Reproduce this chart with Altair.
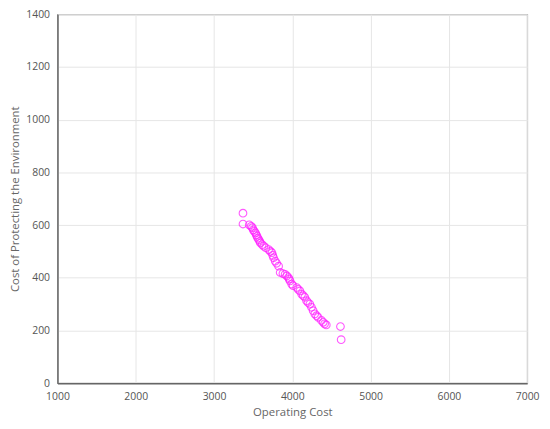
import altair as alt
import pandas as pd

operating_cost = [3370, 3370, 3450, 3475, 3490, 3500, 3515, 3530, 3540, 3550, 3560, 3572, 3585,
                  3593, 3615, 3635, 3660, 3698, 3720, 3740, 3750, 3761, 3782, 3800, 3825, 3845,
                  3880, 3908, 3930, 3950, 3960, 3971, 3992, 4010, 4056, 4075, 4097, 4119, 4140,
                  4160, 4182, 4200, 4224, 4245, 4266, 4287, 4310, 4330, 4372, 4395, 4413, 4434,
                  4615, 4624]
env_cost = [645, 604, 601, 595, 590, 582, 576, 570, 563, 557, 550, 545, 538,
            532, 526, 520, 514, 507, 500, 495, 485, 476, 463, 455, 444, 420,
            416, 413, 407, 401, 395, 388, 376, 370, 363, 356, 350, 338, 332,
            326, 313, 306, 300, 288, 275, 263, 256, 250, 238, 231, 225, 221,
            215, 165]
x_ticks = [1000, 2000, 3000, 4000, 5000, 6000, 7000]
y_ticks = [0, 200, 400, 600, 800, 1000, 1200, 1400]

df = pd.DataFrame({"Operating Cost": operating_cost, "Env": env_cost})

font = "Open Sans"
chart = alt.Chart(df).mark_point(
    shape="circle", filled=False, size=60, stroke="#ff22ff", strokeWidth=1.1, opacity=0.75
).encode(
    x=alt.X("Operating Cost:Q", scale=alt.Scale(domain=[1000, 7000], nice=False),
            axis=alt.Axis(values=x_ticks, format="d", title="Operating Cost")),
    y=alt.Y("Env:Q", scale=alt.Scale(domain=[0, 1400], nice=False),
            axis=alt.Axis(values=y_ticks, format="d",
                          title="Cost of Protecting the Environment")),
).properties(
    width=475, height=373,
    autosize=alt.AutoSizeParams(type="none"),
    padding={"left": 50, "top": 4, "right": 15, "bottom": 44},
).configure_view(
    stroke="#999999", strokeWidth=1.2
).configure_axis(
    grid=True, gridColor="#e6e6e6", gridWidth=1,
    domainColor="#666666", domainWidth=1.5,
    ticks=False, labelFlush=False, labelOverlap=False,
    labelFont=font, labelFontSize=10.5, labelColor="#555555",
    titleFont=font, titleFontSize=11.5, titleColor="#666666", titleFontWeight="normal",
).configure_axisX(labelPadding=9, titlePadding=4).configure_axisY(labelPadding=8, titlePadding=5)

chart.save("out.html", embed_options={"renderer": "svg", "actions": False})
